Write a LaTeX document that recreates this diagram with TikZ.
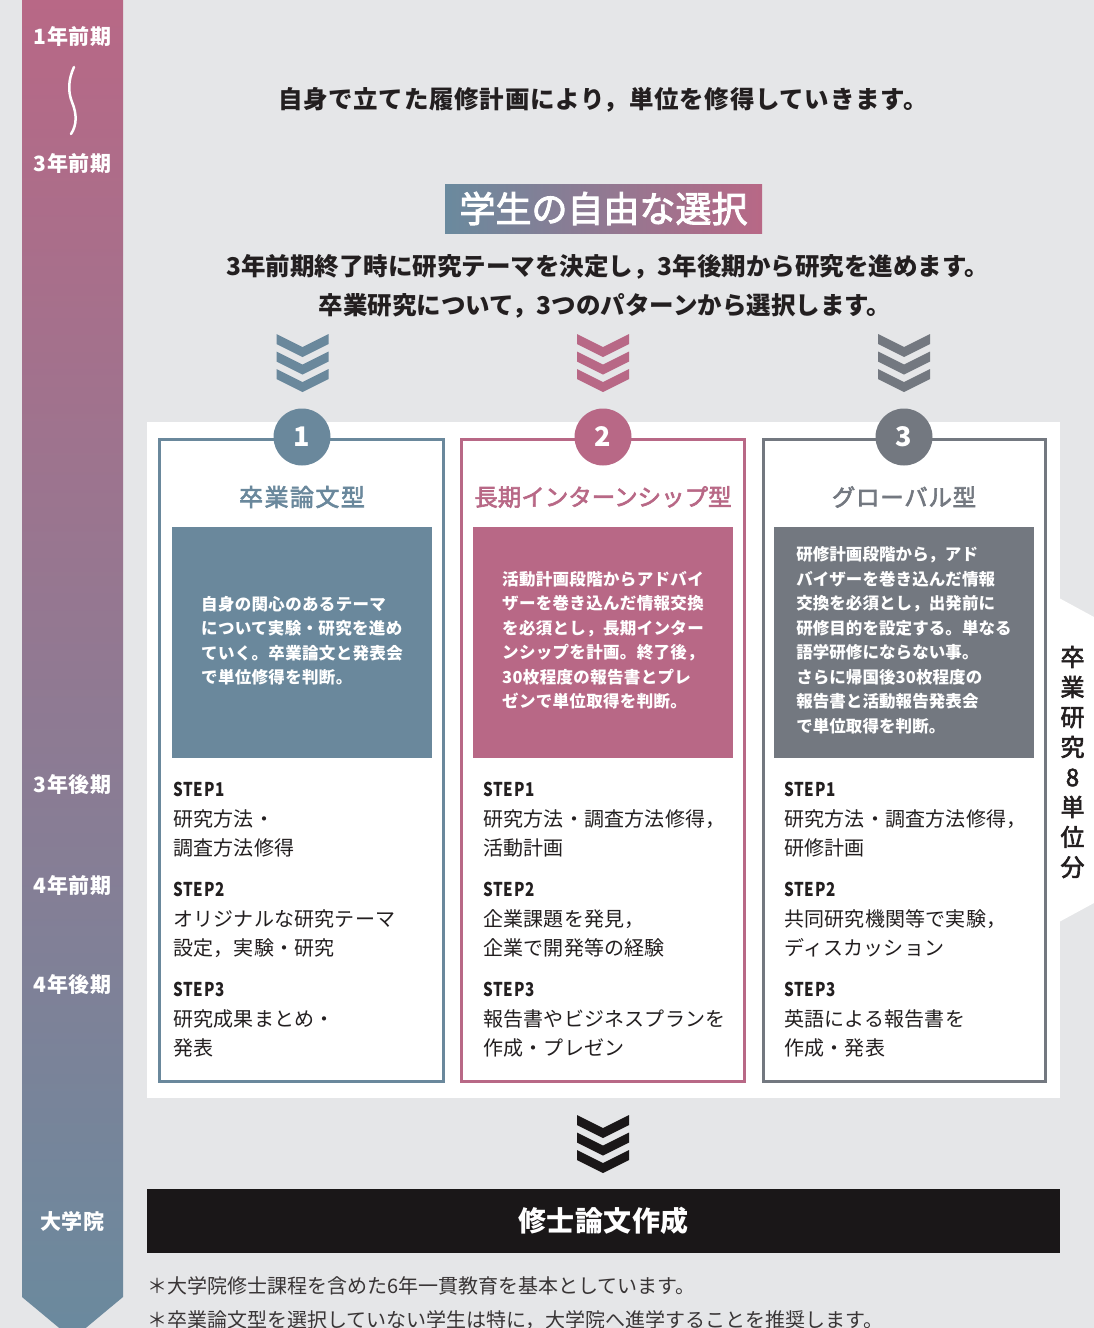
\documentclass[tikz,border=0pt]{standalone}
\usepackage{fontspec}
\setmainfont{Noto Sans CJK JP}
\newfontfamily\stepfont[FakeStretch=0.8]{Noto Sans CJK JP}
\newfontfamily\medfont[FakeBold=2.5]{Noto Sans CJK JP}
\newcommand\fsz[2]{\fontsize{#1}{#2}\selectfont}
\definecolor{bg}{HTML}{E5E6E8}
\definecolor{cblue}{HTML}{6A889C}
\definecolor{cpink}{HTML}{B86886}
\definecolor{cgray}{HTML}{737880}
\definecolor{ink}{HTML}{231F20}
\definecolor{barA}{HTML}{B86886}
\definecolor{barB}{HTML}{6A8A9E}
\definecolor{blk}{HTML}{1A1718}
\newcommand\chevrons[3]{%
  \foreach \k in {0,1,2}{%
    \fill[#3] ($(#1,#2)+(0,17.5*\k)$) ++(-26,0) -- ++(26,13) -- ++(26,-13) -- ++(0,10) -- ++(-26,13) -- ++(-26,-13) -- cycle;}}
\usetikzlibrary{calc}
\begin{document}
\begin{tikzpicture}[x=1pt,y=-1pt,
  barlbl/.style={text=white,font=\bfseries\fsz{21}{21}\addfontfeature{LetterSpace=2},inner sep=0},
  card/.style={draw=#1,line width=3pt,fill=white},
  num/.style={circle,fill=#1,minimum size=57pt,inner sep=0,text=white,font=\bfseries\fsz{27}{27}},
  ctitle/.style={text=#1,font=\medfont\fsz{23.5}{23.5},inner sep=0},
  inbox/.style={fill=#1},
  intext/.style={text=white,font=\bfseries\fsz{16.5}{24.5}\addfontfeature{LetterSpace=2},align=left,inner sep=0},
  stp/.style={anchor=west,inner sep=0,text=ink,font=\stepfont\bfseries\fsz{19}{19}\addfontfeature{LetterSpace=4}},
  bd/.style={anchor=west,inner sep=0,text=ink,font=\fsz{20}{20}\addfontfeature{LetterSpace=1}},
  head/.style={text=ink,font=\bfseries\fsz{24.5}{24.5},inner sep=0},
  foot/.style={anchor=west,inner sep=0,text=ink!90,font=\fsz{20}{20}}]
\useasboundingbox (0,0) rectangle (1094,1328);
\clip (0,0) rectangle (1094,1328);
\fill[bg] (0,0) rectangle (1094,1328);
% left timeline bar
\shade[top color=barA,bottom color=barB] (22,0) -- (123,0) -- (123,1297) -- (72.5,1339) -- (22,1297) -- cycle;
\node[barlbl] (y1a) at (72.5,37) {1年前期};
\draw[white,line width=2.5pt,line cap=round] (74,67) .. controls (68,80) and (68,92) .. (72,102) .. controls (77,114) and (77,125) .. (71,134);
\node[barlbl] (y3a) at (72.5,164) {3年前期};
\node[barlbl] (y3b) at (72.5,785) {3年後期};
\node[barlbl] (y4a) at (72.5,885) {4年前期};
\node[barlbl] (y4b) at (72.5,985) {4年後期};
\node[barlbl] (grad) at (72.5,1221) {大学院};
% header
\node[head,font=\bfseries\fsz{24.5}{24.5}\addfontfeature{LetterSpace=3}] (intro) at (603,100) {自身で立てた履修計画により，単位を修得していきます。};
\shade[left color=barB,right color=barA] (445,184) rectangle (762,233);
\node[text=white,font=\medfont\fsz{36}{36},inner sep=0] (sel) at (603.5,208.5) {学生の自由な選択};
\node[head] (sub1) at (607.5,267) {3年前期終了時に研究テーマを決定し，3年後期から研究を進めます。};
\node[head] (sub2) at (605,306) {卒業研究について，3つのパターンから選択します。};
\chevrons{302.5}{334}{cblue}
\chevrons{603}{334}{cpink}
\chevrons{904}{334}{cgray}
% white panel and side bracket
\fill[white] (147,422) rectangle (1060,1098);
\fill[white] (1059,598) -- (1094,617) -- (1094,903) -- (1059,922) -- cycle;
\node[text=ink,font=\medfont\fsz{24}{30},align=center,inner sep=0] (units) at (1072.5,762) {卒\\業\\研\\究\\8\\単\\位\\分};
% cards
\draw[card=cblue] (159.5,439.5) rectangle (443.5,1081.5);
\draw[card=cpink] (461.5,439.5) rectangle (744.5,1081.5);
\draw[card=cgray] (763,439.5) rectangle (1045.5,1081.5);
\node[num=cblue] (n1) at (302,437) {1};
\node[num=cpink] (n2) at (603,437) {2};
\node[num=cgray] (n3) at (904,437) {3};
\node[ctitle=cblue,font=\medfont\fsz{24}{24}\addfontfeature{LetterSpace=6}] (t1) at (302,497) {卒業論文型};
\node[ctitle=cpink] (t2) at (603,497) {長期インターンシップ型};
\node[ctitle=cgray,font=\medfont\fsz{23.5}{23.5}\addfontfeature{LetterSpace=3}] (t3) at (904,497) {グローバル型};
\fill[inbox=cblue] (172,527) rectangle (432,758);
\fill[inbox=cpink] (473,527) rectangle (733,758);
\fill[inbox=cgray] (774,527) rectangle (1034,758);
\node[intext] (d1) at (302,640.5) {自身の関心のあるテーマ\\について実験・研究を進め\\ていく。卒業論文と発表会\\で単位修得を判断。};
\node[intext] (d2) at (603,640) {活動計画段階からアドバイ\\ザーを巻き込んだ情報交換\\を必須とし，長期インター\\ンシップを計画。終了後，\\30枚程度の報告書とプレ\\ゼンで単位取得を判断。};
\node[intext,font=\bfseries\fsz{16.5}{24.5}\addfontfeature{LetterSpace=0.5}] (d3) at (904,640) {研修計画段階から，アド\\バイザーを巻き込んだ情報\\交換を必須とし，出発前に\\研修目的を設定する。単なる\\語学研修にならない事。\\さらに帰国後30枚程度の\\報告書と活動報告発表会\\で単位取得を判断。};
% steps card 1
\node[stp] (a1) at (173,789) {STEP1};
\node[bd] (a1a) at (173,819) {研究方法・};
\node[bd] (a1b) at (173,848) {調査方法修得};
\node[stp] (a2) at (173,889) {STEP2};
\node[bd] (a2a) at (173,919) {オリジナルな研究テーマ};
\node[bd] (a2b) at (173,948) {設定，実験・研究};
\node[stp] (a3) at (173,989) {STEP3};
\node[bd] (a3a) at (173,1019) {研究成果まとめ・};
\node[bd] (a3b) at (173,1048) {発表};
% steps card 2
\node[stp] (b1) at (483,789) {STEP1};
\node[bd] (b1a) at (483,819) {研究方法・調査方法修得，};
\node[bd] (b1b) at (483,848) {活動計画};
\node[stp] (b2) at (483,889) {STEP2};
\node[bd] (b2a) at (483,919) {企業課題を発見，};
\node[bd] (b2b) at (483,948) {企業で開発等の経験};
\node[stp] (b3) at (483,989) {STEP3};
\node[bd] (b3a) at (483,1019) {報告書やビジネスプランを};
\node[bd] (b3b) at (483,1048) {作成・プレゼン};
% steps card 3
\node[stp] (c1) at (784,789) {STEP1};
\node[bd] (c1a) at (784,819) {研究方法・調査方法修得，};
\node[bd] (c1b) at (784,848) {研修計画};
\node[stp] (c2) at (784,889) {STEP2};
\node[bd] (c2a) at (784,919) {共同研究機関等で実験，};
\node[bd] (c2b) at (784,948) {ディスカッション};
\node[stp] (c3) at (784,989) {STEP3};
\node[bd] (c3a) at (784,1019) {英語による報告書を};
\node[bd] (c3b) at (784,1048) {作成・発表};
% bottom
\chevrons{603}{1115}{blk}
\fill[blk] (147,1189) rectangle (1060,1253);
\node[text=white,font=\bfseries\fsz{28}{28}\addfontfeature{LetterSpace=2},inner sep=0] (thesis) at (603.5,1221) {修士論文作成};
\node[foot] (f1) at (147,1286) {＊大学院修士課程を含めた6年一貫教育を基本としています。};
\node[foot] (f2) at (147,1320) {＊卒業論文型を選択していない学生は特に，大学院へ進学することを推奨します。};
\end{tikzpicture}
\end{document}
